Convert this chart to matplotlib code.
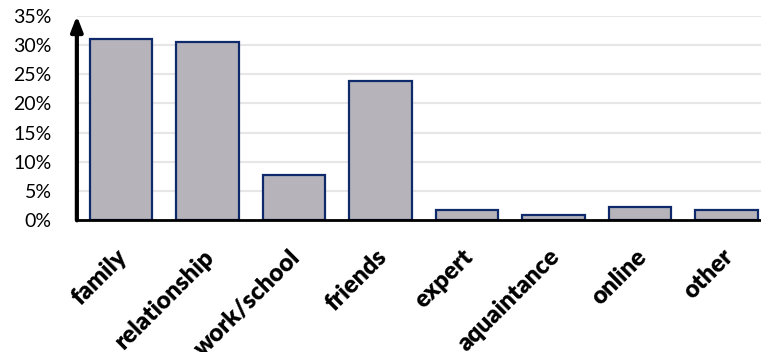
import numpy as np
import matplotlib
matplotlib.use("Agg")
import matplotlib.pyplot as plt
import matplotlib.transforms as mtransforms
from matplotlib.ticker import FuncFormatter

categories = ["family", "relationship", "work/school", "friends",
              "expert", "aquaintance", "online", "other"]
shares = [0.311, 0.306, 0.078, 0.238, 0.018, 0.009, 0.023, 0.018]
y_ticks = [0.0, 0.05, 0.10, 0.15, 0.20, 0.25, 0.30, 0.35]

plt.rcParams['font.family'] = ['Lato', 'DejaVu Sans']

fig = plt.figure(figsize=(7.61, 3.52), dpi=100)
ax = fig.add_axes([0.101, 0.374, 0.899, 0.581])

x = np.arange(len(categories))
ax.bar(x, shares, width=0.72, color='#B6B4BA', edgecolor='#0E2A6B',
       linewidth=1.6, zorder=3)

ax.set_xlim(-0.51, 7.4)
ax.set_ylim(0, 0.35)
ax.set_yticks(y_ticks)
ax.yaxis.set_major_formatter(FuncFormatter(lambda v, p: f"{v*100:.0f}%"))
ax.grid(axis='y', color='#E6E6E6', linewidth=1.5, zorder=0)
ax.set_axisbelow(True)

for side in ['left', 'right', 'top']:
    ax.spines[side].set_visible(False)
ax.spines['bottom'].set_color('black')
ax.spines['bottom'].set_linewidth(2)
ax.spines['bottom'].set_zorder(5)

# y axis drawn as an arrow
ax.annotate('', xy=(0, 1.0), xycoords='axes fraction', xytext=(0, 0),
            textcoords='axes fraction',
            arrowprops=dict(arrowstyle='-|>,head_width=0.35,head_length=0.9',
                            color='black', lw=3, shrinkA=0, shrinkB=0),
            zorder=6, annotation_clip=False)

ax.tick_params(axis='both', length=0)
ax.tick_params(axis='y', labelsize=14, pad=18)
ax.set_xticks(x)
ax.set_xticklabels(categories, rotation=45, ha='right',
                   rotation_mode='anchor', fontsize=17.5, fontweight='heavy')
ax.tick_params(axis='x', pad=18)

# nudge the slanted labels a little to the left
shift = mtransforms.ScaledTranslation(-5 / 100, 0, fig.dpi_scale_trans)
for lbl in ax.get_xticklabels():
    lbl.set_transform(lbl.get_transform() + shift)

fig.savefig('out.png', dpi=100)
